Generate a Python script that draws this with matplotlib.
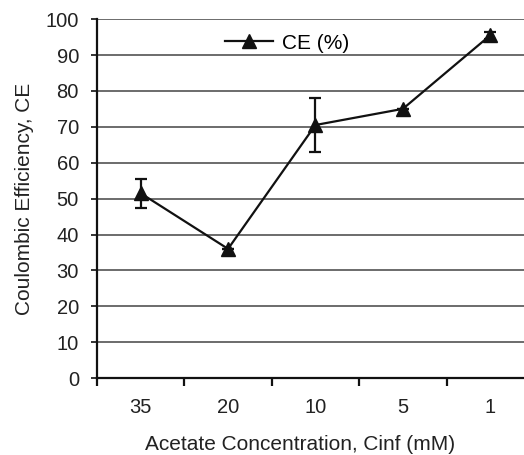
import numpy as np
import matplotlib.pyplot as plt

plt.rcParams['font.family'] = ['Liberation Sans', 'DejaVu Sans']

# data
concentrations = ['35', '20', '10', '5', '1']
ce_values = [51.5, 36, 70.5, 75, 95.5]
ce_errors = [4, 0, 7.5, 0, 1]

fig = plt.figure(figsize=(5.24, 4.55), dpi=100)
ax = fig.add_axes([0.185, 0.169, 0.834, 0.789])

x = np.arange(len(concentrations))
ax.errorbar(x, ce_values, yerr=ce_errors, fmt='none', ecolor='#111111',
            elinewidth=1.6, capsize=4, capthick=1.6, zorder=3)
ax.plot(x, ce_values, color='#111111', lw=1.6, marker='^', markersize=10,
        label='CE (%)', zorder=4)

ax.set_xlim(-0.5, len(concentrations) - 0.5)
ax.set_ylim(0, 100)
ax.set_yticks(np.arange(0, 101, 10))
ax.yaxis.grid(True, color='#444444', lw=1.1)
ax.set_axisbelow(True)

# category labels centered, ticks on category boundaries
ax.set_xticks(x)
ax.set_xticklabels(concentrations)
ax.set_xticks(np.arange(-0.5, len(concentrations)), minor=True)
ax.tick_params(axis='x', which='major', length=0, pad=14, labelsize=14.5, colors='#222222')
ax.tick_params(axis='x', which='minor', length=6, width=1.6, direction='out', color='#111111')
ax.tick_params(axis='y', length=4, width=1.2, pad=9, labelsize=14.5, colors='#222222')
ax.tick_params(axis='y', color='#111111')

for side in ['top', 'right']:
    ax.spines[side].set_visible(False)
ax.spines['left'].set_linewidth(1.6)
ax.spines['bottom'].set_linewidth(1.6)
ax.spines['left'].set_color('#111111')
ax.spines['bottom'].set_color('#111111')

# axes run past the right edge (cropped like the original), so shift the x label left
ax.set_xlabel('Acetate Concentration, Cinf (mM)', fontsize=15, color='#222222', labelpad=13)
ax.xaxis.label.set_x(0.465)
ax.set_ylabel('Coulombic Efficiency, CE', fontsize=15, color='#222222', labelpad=8)

ax.legend(loc='upper left', bbox_to_anchor=(0.251, 1.012), frameon=False,
          fontsize=15, handlelength=2.3, handletextpad=0.4)

fig.savefig('out.png', dpi=100)
